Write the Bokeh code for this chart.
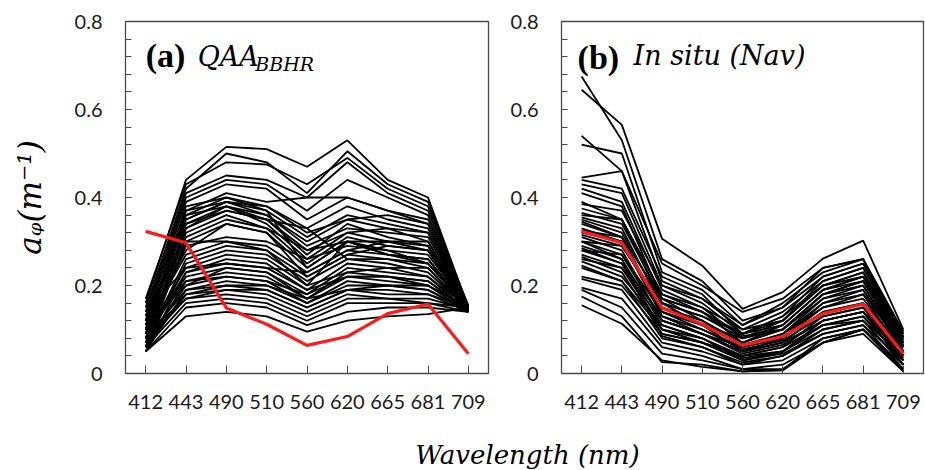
from bokeh.plotting import figure
from bokeh.models import Range1d, FixedTicker, NumeralTickFormatter, Label
from bokeh.layouts import column, row
from bokeh.embed import file_html
from bokeh.resources import INLINE

# ---------------- data ----------------
wavelengths = ["412", "443", "490", "510", "560", "620", "665", "681", "709"]

# red reference spectrum (same in both panels)
red_spectrum = [0.323, 0.297, 0.149, 0.112, 0.064, 0.084, 0.136, 0.158, 0.045]

# panel (a) QAA_BBHR black spectra
qaa_spectra = [
    [0.16, 0.44, 0.515, 0.51, 0.47, 0.53, 0.44, 0.40, 0.15],
    [0.17, 0.43, 0.48, 0.475, 0.43, 0.49, 0.42, 0.38, 0.155],
    [0.15, 0.42, 0.50, 0.48, 0.41, 0.505, 0.43, 0.39, 0.15],
    [0.14, 0.41, 0.45, 0.44, 0.40, 0.48, 0.41, 0.37, 0.15],
    [0.13, 0.40, 0.44, 0.43, 0.37, 0.44, 0.40, 0.36, 0.145],
    [0.12, 0.39, 0.43, 0.42, 0.35, 0.40, 0.37, 0.35, 0.15],
    [0.11, 0.37, 0.41, 0.39, 0.40, 0.40, 0.37, 0.34, 0.14],
    [0.13, 0.37, 0.39, 0.38, 0.33, 0.38, 0.35, 0.33, 0.15],
    [0.10, 0.36, 0.40, 0.37, 0.31, 0.36, 0.34, 0.32, 0.15],
    [0.09, 0.35, 0.39, 0.36, 0.30, 0.35, 0.33, 0.30, 0.14],
    [0.12, 0.34, 0.38, 0.36, 0.29, 0.33, 0.32, 0.31, 0.15],
    [0.08, 0.33, 0.37, 0.35, 0.27, 0.34, 0.31, 0.29, 0.145],
    [0.10, 0.33, 0.38, 0.34, 0.26, 0.32, 0.30, 0.28, 0.15],
    [0.07, 0.32, 0.36, 0.33, 0.25, 0.31, 0.29, 0.28, 0.14],
    [0.09, 0.31, 0.35, 0.33, 0.28, 0.30, 0.28, 0.27, 0.15],
    [0.06, 0.30, 0.34, 0.32, 0.24, 0.30, 0.27, 0.26, 0.14],
    [0.08, 0.29, 0.31, 0.30, 0.26, 0.29, 0.28, 0.25, 0.145],
    [0.11, 0.27, 0.30, 0.29, 0.23, 0.28, 0.27, 0.26, 0.15],
    [0.07, 0.26, 0.29, 0.28, 0.22, 0.27, 0.26, 0.24, 0.14],
    [0.06, 0.25, 0.28, 0.27, 0.21, 0.26, 0.25, 0.23, 0.145],
    [0.09, 0.24, 0.27, 0.26, 0.20, 0.30, 0.27, 0.25, 0.15],
    [0.05, 0.23, 0.25, 0.24, 0.19, 0.25, 0.24, 0.22, 0.14],
    [0.08, 0.22, 0.24, 0.23, 0.18, 0.24, 0.23, 0.22, 0.15],
    [0.06, 0.21, 0.23, 0.22, 0.17, 0.23, 0.22, 0.21, 0.145],
    [0.10, 0.21, 0.22, 0.21, 0.18, 0.22, 0.21, 0.20, 0.15],
    [0.07, 0.20, 0.22, 0.21, 0.16, 0.21, 0.20, 0.19, 0.14],
    [0.05, 0.19, 0.21, 0.20, 0.16, 0.20, 0.20, 0.19, 0.145],
    [0.08, 0.19, 0.20, 0.19, 0.15, 0.19, 0.19, 0.18, 0.15],
    [0.06, 0.18, 0.19, 0.19, 0.15, 0.19, 0.18, 0.18, 0.14],
    [0.07, 0.17, 0.19, 0.18, 0.14, 0.18, 0.17, 0.17, 0.145],
    [0.09, 0.17, 0.18, 0.17, 0.13, 0.17, 0.17, 0.16, 0.15],
    [0.06, 0.16, 0.17, 0.16, 0.12, 0.16, 0.16, 0.16, 0.14],
    [0.05, 0.13, 0.14, 0.13, 0.095, 0.12, 0.13, 0.135, 0.15],
    [0.11, 0.28, 0.34, 0.32, 0.22, 0.27, 0.29, 0.28, 0.15],
    [0.12, 0.35, 0.39, 0.37, 0.24, 0.30, 0.30, 0.29, 0.14],
    [0.10, 0.36, 0.38, 0.35, 0.33, 0.26, 0.26, 0.25, 0.15],
    [0.08, 0.30, 0.30, 0.28, 0.20, 0.23, 0.24, 0.24, 0.145],
    [0.14, 0.24, 0.25, 0.24, 0.23, 0.28, 0.30, 0.30, 0.15],
    [0.07, 0.18, 0.20, 0.20, 0.17, 0.22, 0.22, 0.20, 0.14],
    [0.09, 0.38, 0.40, 0.38, 0.32, 0.35, 0.36, 0.34, 0.15],
    [0.06, 0.34, 0.37, 0.35, 0.28, 0.32, 0.33, 0.32, 0.145],
    [0.08, 0.23, 0.26, 0.25, 0.19, 0.22, 0.22, 0.21, 0.14],
    [0.11, 0.20, 0.24, 0.23, 0.17, 0.19, 0.20, 0.20, 0.15],
    [0.05, 0.15, 0.16, 0.15, 0.11, 0.14, 0.15, 0.15, 0.14],
]

# panel (b) in situ (Nav) black spectra
insitu_spectra = [
    [0.675, 0.53, 0.26, 0.21, 0.12, 0.15, 0.22, 0.25, 0.09],
    [0.645, 0.565, 0.306, 0.245, 0.147, 0.185, 0.261, 0.302, 0.10],
    [0.54, 0.46, 0.25, 0.20, 0.14, 0.17, 0.24, 0.26, 0.09],
    [0.52, 0.50, 0.23, 0.19, 0.11, 0.16, 0.23, 0.26, 0.08],
    [0.445, 0.46, 0.21, 0.17, 0.10, 0.14, 0.21, 0.24, 0.085],
    [0.44, 0.42, 0.22, 0.18, 0.09, 0.12, 0.20, 0.22, 0.07],
    [0.43, 0.41, 0.20, 0.17, 0.11, 0.15, 0.24, 0.26, 0.095],
    [0.42, 0.39, 0.19, 0.15, 0.08, 0.11, 0.19, 0.21, 0.06],
    [0.41, 0.38, 0.17, 0.14, 0.09, 0.13, 0.22, 0.25, 0.08],
    [0.39, 0.35, 0.18, 0.14, 0.07, 0.10, 0.18, 0.20, 0.05],
    [0.375, 0.35, 0.16, 0.13, 0.08, 0.12, 0.20, 0.23, 0.07],
    [0.365, 0.34, 0.17, 0.12, 0.06, 0.09, 0.17, 0.19, 0.05],
    [0.355, 0.33, 0.15, 0.12, 0.07, 0.11, 0.19, 0.22, 0.075],
    [0.35, 0.32, 0.16, 0.11, 0.05, 0.08, 0.16, 0.18, 0.04],
    [0.34, 0.31, 0.14, 0.11, 0.08, 0.10, 0.17, 0.20, 0.06],
    [0.33, 0.30, 0.13, 0.10, 0.06, 0.09, 0.15, 0.17, 0.05],
    [0.315, 0.29, 0.15, 0.12, 0.07, 0.10, 0.18, 0.21, 0.07],
    [0.31, 0.28, 0.12, 0.09, 0.05, 0.07, 0.14, 0.16, 0.04],
    [0.30, 0.27, 0.14, 0.10, 0.06, 0.08, 0.15, 0.18, 0.06],
    [0.29, 0.26, 0.11, 0.08, 0.04, 0.06, 0.13, 0.15, 0.03],
    [0.285, 0.25, 0.13, 0.09, 0.05, 0.07, 0.12, 0.14, 0.05],
    [0.28, 0.25, 0.10, 0.07, 0.03, 0.05, 0.12, 0.14, 0.02],
    [0.27, 0.24, 0.12, 0.09, 0.06, 0.08, 0.14, 0.16, 0.06],
    [0.265, 0.23, 0.09, 0.07, 0.04, 0.06, 0.11, 0.13, 0.03],
    [0.255, 0.22, 0.11, 0.08, 0.03, 0.05, 0.10, 0.12, 0.02],
    [0.245, 0.21, 0.08, 0.06, 0.02, 0.04, 0.09, 0.11, 0.01],
    [0.24, 0.21, 0.10, 0.07, 0.04, 0.05, 0.11, 0.12, 0.04],
    [0.215, 0.19, 0.07, 0.05, 0.02, 0.03, 0.08, 0.10, 0.01],
    [0.195, 0.17, 0.06, 0.04, 0.01, 0.02, 0.07, 0.10, 0.005],
    [0.19, 0.15, 0.045, 0.03, 0.01, 0.01, 0.07, 0.09, 0.005],
    [0.175, 0.13, 0.026, 0.02, 0.005, 0.008, 0.08, 0.10, 0.01],
    [0.155, 0.113, 0.03, 0.015, 0.005, 0.007, 0.07, 0.10, 0.02],
    [0.30, 0.29, 0.16, 0.13, 0.09, 0.13, 0.20, 0.23, 0.08],
    [0.32, 0.30, 0.14, 0.11, 0.065, 0.09, 0.16, 0.19, 0.05],
    [0.345, 0.31, 0.13, 0.10, 0.055, 0.075, 0.13, 0.15, 0.04],
    [0.36, 0.35, 0.18, 0.15, 0.10, 0.12, 0.21, 0.24, 0.08],
    [0.28, 0.27, 0.12, 0.09, 0.045, 0.065, 0.12, 0.14, 0.035],
    [0.26, 0.24, 0.10, 0.08, 0.035, 0.05, 0.11, 0.13, 0.03],
    [0.30, 0.26, 0.085, 0.06, 0.025, 0.04, 0.10, 0.12, 0.02],
    [0.22, 0.20, 0.09, 0.07, 0.03, 0.045, 0.09, 0.11, 0.03],
    [0.385, 0.37, 0.20, 0.16, 0.09, 0.11, 0.19, 0.22, 0.07],
    [0.325, 0.31, 0.17, 0.14, 0.085, 0.10, 0.18, 0.21, 0.065],
]

y_ticks = [0, 0.2, 0.4, 0.6, 0.8]
y_minor = [i * 0.04 for i in range(21)]

FRAME = "#4a4a4a"
TICKFONT = "Lato"


def make_panel(spectra, width, border_left, show_ylabel):
    p = figure(width=width, height=430, output_backend="svg", toolbar_location=None,
               x_range=Range1d(-0.5, len(wavelengths) - 0.5), y_range=Range1d(0, 0.8),
               min_border_left=border_left, min_border_right=2,
               min_border_top=21, min_border_bottom=57)
    p.grid.visible = False
    p.outline_line_color = FRAME
    p.outline_line_width = 1.3
    p.background_fill_color = "white"
    p.border_fill_color = "white"

    idx = list(range(len(wavelengths)))
    p.multi_line(xs=[idx] * len(spectra), ys=spectra, line_color="black", line_width=1.8)
    p.line(idx, red_spectrum, line_color="#ff1a1a", line_width=3.2)

    xa = p.xaxis[0]
    xa.ticker = FixedTicker(ticks=idx)
    xa.major_label_overrides = {i: w for i, w in enumerate(wavelengths)}
    xa.major_tick_in = 8
    xa.major_tick_out = 0
    xa.minor_tick_line_color = None
    xa.axis_line_color = FRAME
    xa.major_tick_line_color = FRAME
    xa.major_label_text_font = TICKFONT
    xa.major_label_text_font_size = "20px"
    xa.major_label_text_color = "#1a1a1a"
    xa.major_label_standoff = 21

    ya = p.yaxis[0]
    ya.ticker = FixedTicker(ticks=y_ticks, minor_ticks=y_minor)
    ya.formatter = NumeralTickFormatter(format="0.[0]")
    ya.major_tick_in = 6
    ya.major_tick_out = 0
    ya.minor_tick_in = 6
    ya.minor_tick_out = 0
    ya.axis_line_color = FRAME
    ya.major_tick_line_color = FRAME
    ya.minor_tick_line_color = FRAME
    ya.major_label_text_font = TICKFONT
    ya.major_label_text_font_size = "20px"
    ya.major_label_text_color = "#1a1a1a"
    ya.major_label_standoff = 23
    if show_ylabel:
        ya.axis_label = "aᵩ(m⁻¹)"
        ya.axis_label_text_font = "DejaVu Serif"
        ya.axis_label_text_font_style = "italic"
        ya.axis_label_text_font_size = "31px"
        ya.axis_label_text_color = "black"
        ya.axis_label_standoff = 24
    return p


p1 = make_panel(qaa_spectra, 490, 125, True)
p2 = make_panel(insitu_spectra, 435, 71, False)

# panel titles
p1.add_layout(Label(x=0.0, y=0.722, text="(a)", text_font="Liberation Serif",
                    text_font_style="bold", text_font_size="34px", text_color="black",
                    text_baseline="alphabetic"))
p1.add_layout(Label(x=1.29, y=0.720, text="QAA", text_font="DejaVu Serif",
                    text_font_style="italic", text_font_size="27px", text_color="black",
                    text_baseline="alphabetic"))
p1.add_layout(Label(x=2.72, y=0.703, text="BBHR", text_font="DejaVu Serif",
                    text_font_style="italic", text_font_size="19px", text_color="black",
                    text_baseline="alphabetic"))

p2.add_layout(Label(x=-0.10, y=0.718, text="(b)", text_font="Liberation Serif",
                    text_font_style="bold", text_font_size="34px", text_color="black",
                    text_baseline="alphabetic"))
p2.add_layout(Label(x=1.29, y=0.722, text="In situ (Nav)", text_font="DejaVu Serif",
                    text_font_style="italic", text_font_size="27px", text_color="black",
                    text_baseline="alphabetic"))

# shared x-axis title strip
p3 = figure(width=925, height=40, output_backend="svg", toolbar_location=None,
            x_range=Range1d(0, 925), y_range=Range1d(0, 40),
            x_axis_location=None, y_axis_location=None, min_border=0)
p3.grid.visible = False
p3.outline_line_color = None
p3.add_layout(Label(x=527, y=16, text="Wavelength (nm)", text_font="DejaVu Serif",
                    text_font_style="italic", text_font_size="26px", text_color="black",
                    text_align="center", text_baseline="alphabetic"))

layout = column(row(p1, p2), p3)
open("out.html", "w").write(file_html(layout, INLINE))
